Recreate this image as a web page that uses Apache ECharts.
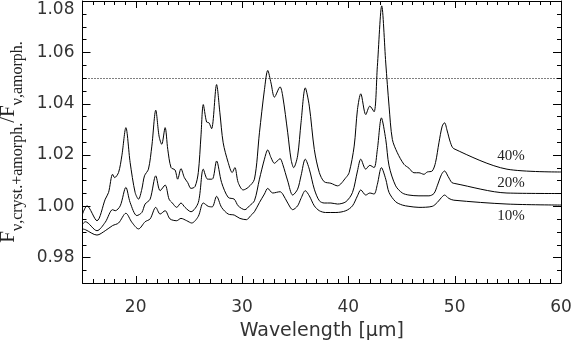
<!DOCTYPE html>
<html lang="en">
<head>
	<meta charset="UTF-8">
	<title>Flux ratio crystalline + amorphous</title>
	<style>
		html, body { margin: 0; padding: 0; background: #fff; }
		#main { width: 572px; height: 341px; }
	</style>
</head>
<body>
	<div id="main"></div>

	<script src="https://cdn.jsdelivr.net/npm/echarts@6/dist/echarts.min.js"></script>
	<script>
		// 10% crystalline
		var wl10 = [15.0, 15.27, 16.36, 17.14, 17.83, 18.39, 19.08, 19.64, 20.27, 20.89, 21.36, 21.89, 22.30, 22.77, 23.23, 23.86, 24.26, 24.80, 25.27, 25.89,
			26.36, 26.83, 27.20, 27.61, 28.08, 28.70, 29.27, 29.80, 30.42, 30.80, 31.17, 31.64, 32.11, 32.42, 32.89, 33.58, 33.83, 34.30, 34.77, 35.23,
			35.55, 35.95, 36.33, 36.80, 37.27, 37.86, 38.83, 39.77, 40.39, 40.86, 41.17, 41.64, 42.02, 42.42, 42.73, 43.11, 43.52, 43.83, 44.45, 45.08,
			45.70, 46.64, 47.89, 48.36, 48.77, 49.05, 49.45, 49.92, 54.92, 60];
		var f10 = [0.9911, 0.9908, 0.9887, 0.9904, 0.9924, 0.9934, 0.9972, 0.9937, 0.9911, 0.9939, 0.9950, 0.9995, 0.9969, 0.9982, 0.9950, 0.9943, 0.9952, 0.9943, 0.9934, 0.9960,
			1.0012, 0.9999, 0.9997, 1.0038, 0.9995, 0.9969, 0.9965, 0.9952, 0.9947, 0.9962, 0.9978, 1.0014, 1.0047, 1.0069, 1.0051, 1.0056, 1.0047, 1.0012, 0.9986, 1.0001,
			1.0030, 1.0060, 1.0040, 1.0001, 0.9982, 0.9975, 0.9975, 0.9982, 1.0001, 1.0040, 1.0063, 1.0043, 1.0051, 1.0047, 1.0085, 1.0150, 1.0105, 1.0053, 1.0017, 1.0004,
			0.9999, 0.9995, 0.9999, 1.0014, 1.0034, 1.0043, 1.0030, 1.0023, 1.0008, 1.0004];

		// 20% crystalline
		var wl20 = [15.0, 15.27, 16.36, 17.14, 17.83, 18.08, 18.55, 19.08, 19.48, 20.11, 20.58, 20.89, 21.36, 21.89, 22.30, 22.77, 23.14, 23.45, 23.86, 24.26,
			24.64, 25.20, 25.89, 26.36, 26.77, 27.20, 27.61, 28.08, 28.70, 29.27, 29.64, 30.27, 30.70, 31.17, 31.64, 32.11, 32.42, 32.73, 33.05, 33.58,
			33.83, 34.30, 34.77, 35.23, 35.55, 35.95, 36.33, 36.80, 37.27, 37.73, 38.36, 38.98, 39.77, 40.39, 40.86, 41.17, 41.64, 42.02, 42.42, 42.73,
			43.11, 43.52, 43.83, 44.45, 45.08, 45.70, 46.64, 47.58, 48.05, 48.36, 48.77, 49.05, 49.39, 49.73, 50.02, 54.92, 60];
		var f20 = [0.9930, 0.9939, 0.9904, 0.9937, 0.9986, 0.9982, 1.0001, 1.0073, 1.0014, 0.9963, 0.9975, 1.0008, 1.0027, 1.0118, 1.0060, 1.0082, 1.0027, 1.0012, 0.9995, 1.0012,
			0.9995, 0.9978, 1.0014, 1.0144, 1.0105, 1.0105, 1.0176, 1.0092, 1.0034, 1.0027, 1.0001, 0.9986, 1.0001, 1.0021, 1.0105, 1.0183, 1.0219, 1.0189, 1.0167, 1.0185,
			1.0163, 1.0098, 1.0043, 1.0066, 1.0118, 1.0183, 1.0144, 1.0066, 1.0021, 1.0012, 1.0012, 1.0008, 1.0017, 1.0053, 1.0137, 1.0183, 1.0144, 1.0159, 1.0150, 1.0221,
			1.0344, 1.0260, 1.0157, 1.0079, 1.0051, 1.0043, 1.0040, 1.0040, 1.0049, 1.0079, 1.0124, 1.0137, 1.0115, 1.0092, 1.0088, 1.0051, 1.0049];

		// 40% crystalline
		var wl40 = [15.0, 15.42, 16.36, 17.14, 17.45, 17.83, 18.02, 18.39, 18.70, 19.08, 19.48, 19.95, 20.27, 20.58, 20.83, 21.20, 21.52, 21.89, 22.20, 22.45,
			22.77, 23.02, 23.33, 23.70, 23.95, 24.26, 24.58, 24.89, 25.20, 25.58, 25.89, 26.14, 26.36, 26.67, 26.89, 27.14, 27.61, 27.92, 28.23, 28.70,
			29.08, 29.33, 29.64, 30.11, 30.58, 31.17, 31.64, 32.11, 32.42, 32.73, 33.05, 33.58, 33.83, 34.30, 34.61, 34.86, 35.23, 35.55, 35.95, 36.33,
			36.80, 37.27, 37.73, 38.36, 38.98, 39.77, 40.08, 40.55, 40.86, 41.17, 41.64, 42.02, 42.42, 42.73, 43.14, 43.52, 43.83, 44.14, 44.61, 45.23,
			45.70, 46.17, 46.64, 47.11, 47.42, 47.89, 48.20, 48.52, 48.83, 49.05, 49.30, 49.61, 49.92, 54.92, 60];
		var f40 = [0.9969, 1.0001, 0.9943, 1.0027, 1.0053, 1.0124, 1.0111, 1.0131, 1.0196, 1.0306, 1.0170, 1.0053, 1.0027, 1.0066, 1.0118, 1.0144, 1.0234, 1.0374, 1.0273, 1.0241,
			1.0306, 1.0221, 1.0150, 1.0141, 1.0105, 1.0146, 1.0111, 1.0092, 1.0069, 1.0076, 1.0131, 1.0273, 1.0396, 1.0328, 1.0325, 1.0302, 1.0474, 1.0364, 1.0247, 1.0170,
			1.0131, 1.0150, 1.0092, 1.0063, 1.0073, 1.0105, 1.0286, 1.0454, 1.0529, 1.0480, 1.0425, 1.0465, 1.0429, 1.0286, 1.0183, 1.0150, 1.0196, 1.0325, 1.0461, 1.0390,
			1.0221, 1.0131, 1.0095, 1.0089, 1.0079, 1.0111, 1.0131, 1.0234, 1.0377, 1.0438, 1.0357, 1.0390, 1.0368, 1.0545, 1.0781, 1.0558, 1.0390, 1.0260, 1.0208, 1.0163,
			1.0148, 1.0130, 1.0130, 1.0124, 1.0133, 1.0137, 1.0170, 1.0247, 1.0312, 1.0325, 1.0293, 1.0247, 1.0224, 1.0144, 1.0133];

		var curveNames = ['10%', '20%', '40%'];
		var xMajor = [20, 30, 40, 50, 60];
		var yMajor = [0.98, 1.00, 1.02, 1.04, 1.06, 1.08];
		var refLevel = 1.05;

		// minor tick values: every 1 um on x, every 0.005 on y
		var xMinor = [];
		for (var i = 16; i < 60; i++) xMinor.push(i);
		var yMinor = [];
		for (var j = 195; j < 216; j++) yMinor.push(Math.round(j * 5) / 1000);

		function zip(xs, ys) {
			var out = [];
			for (var k = 0; k < xs.length; k++) out.push([xs[k], ys[k]]);
			return out;
		}

		var black = '#000';
		var labelFont = { fontFamily: 'DejaVu Sans', fontSize: 17, color: '#333' };

		// inward ticks on all four sides of the frame
		function tickSeries(values, onX, len) {
			return {
				type: 'custom',
				coordinateSystem: 'cartesian2d',
				silent: true,
				z: 5,
				encode: { x: 0, y: 1 },
				data: values.map(function (v) { return onX ? [v, 1.0] : [30, v]; }),
				renderItem: function (params, api) {
					var cs = params.coordSys;
					var p = api.coord([api.value(0), api.value(1)]);
					var st = { stroke: black, lineWidth: 1, fill: null };
					if (onX) {
						var x = Math.round(p[0]) + 0.5;
						return { type: 'group', children: [
							{ type: 'line', shape: { x1: x, y1: cs.y + cs.height, x2: x, y2: cs.y + cs.height - len }, style: st },
							{ type: 'line', shape: { x1: x, y1: cs.y, x2: x, y2: cs.y + len }, style: st }
						] };
					}
					var y = Math.round(p[1]) + 0.5;
					return { type: 'group', children: [
						{ type: 'line', shape: { x1: cs.x, y1: y, x2: cs.x + len, y2: y }, style: st },
						{ type: 'line', shape: { x1: cs.x + cs.width, y1: y, x2: cs.x + cs.width - len, y2: y }, style: st }
					] };
				}
			};
		}

		var xAxes = [
			{
				type: 'value', position: 'bottom', min: 15, max: 60,
				axisLine: { show: true, onZero: false, lineStyle: { color: black, width: 1 } },
				axisTick: { show: false },
				axisLabel: Object.assign({ margin: 16, customValues: xMajor }, labelFont),
				splitLine: { show: false },
				name: 'Wavelength [\u03bcm]',
				nameLocation: 'middle',
				nameGap: 39,
				nameTextStyle: { fontFamily: 'DejaVu Sans', fontSize: 19, color: '#333' }
			},
			{
				type: 'value', position: 'top', min: 15, max: 60,
				axisLine: { show: true, onZero: false, lineStyle: { color: black, width: 1 } },
				axisTick: { show: false }, axisLabel: { show: false }, splitLine: { show: false }
			}
		];

		var yAxes = [
			{
				type: 'value', position: 'left', min: 0.97, max: 1.08,
				axisLine: { show: true, onZero: false, lineStyle: { color: black, width: 1 } },
				axisTick: { show: false },
				axisLabel: Object.assign({
					margin: 8, customValues: yMajor, verticalAlignMaxLabel: 'top',
					formatter: function (v) { return v.toFixed(2); }
				}, labelFont),
				splitLine: { show: false },
				name: '{m|F}{s|\u03bd,cryst.+amorph.}{m|/F}{s|\u03bd,amorph.}',
				nameLocation: 'middle',
				nameRotate: 90,
				nameGap: 40,
				nameTextStyle: {
					rich: {
						m: { fontFamily: 'Liberation Serif', fontSize: 21, color: '#222', lineHeight: 22, verticalAlign: 'top' },
						s: { fontFamily: 'Liberation Serif', fontSize: 16, color: '#222', lineHeight: 16, padding: [12, 0, 0, 0], verticalAlign: 'top' }
					}
				}
			},
			{
				type: 'value', position: 'right', min: 0.97, max: 1.08,
				axisLine: { show: true, onZero: false, lineStyle: { color: black, width: 1 } },
				axisTick: { show: false }, axisLabel: { show: false }, splitLine: { show: false }
			}
		];

		var curves = [zip(wl10, f10), zip(wl20, f20), zip(wl40, f40)];
		var tagY = [0.9960, 1.0089, 1.0195];

		var series = curves.map(function (pts, n) {
			var s = {
				name: curveNames[n],
				type: 'line',
				data: pts,
				showSymbol: false,
				smooth: 0.3,
				lineStyle: { color: black, width: 1 },
				markPoint: {
					symbol: 'circle', symbolSize: 0, silent: true,
					label: { show: true, position: 'inside', formatter: curveNames[n], fontFamily: 'Liberation Serif', fontSize: 15, color: '#222' },
					data: [{ coord: [55.3, tagY[n]] }]
				}
			};
			if (n === 2) {
				s.markLine = {
					silent: true, symbol: ['none', 'none'], label: { show: false },
					lineStyle: { color: black, width: 1, type: [1, 2] },
					data: [{ yAxis: refLevel }]
				};
			}
			return s;
		});

		series.push(tickSeries(xMinor, true, 4));
		series.push(tickSeries(xMajor, true, 7));
		series.push(tickSeries(yMinor, false, 4));
		series.push(tickSeries(yMajor, false, 8));

		var myChart = echarts.init(document.getElementById('main'));
		myChart.setOption({
			animation: false,
			backgroundColor: '#fff',
			grid: { left: 82.5, right: 11, top: 1, bottom: 58, containLabel: false, outerBoundsMode: 'none' },
			xAxis: xAxes,
			yAxis: yAxes,
			series: series
		});
	</script>
</body>
</html>
